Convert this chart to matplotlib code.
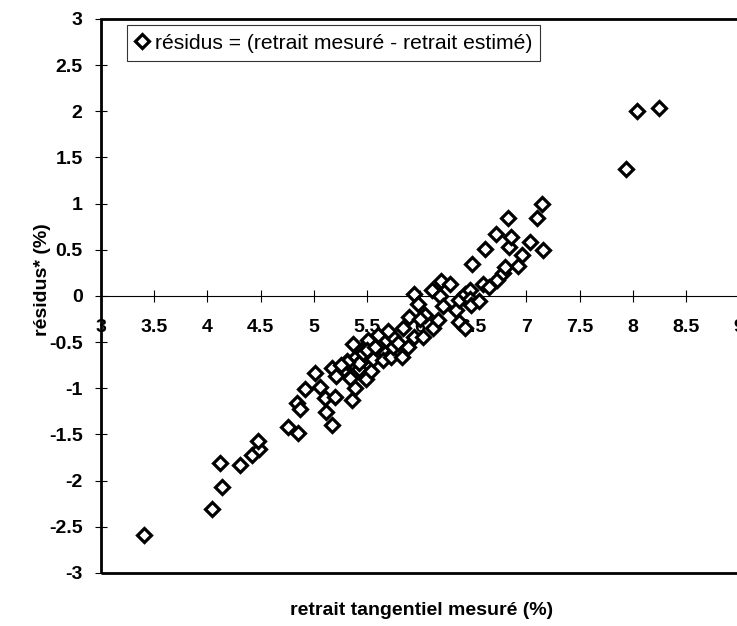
import matplotlib.pyplot as plt
from matplotlib.patches import Rectangle

retrait_mesure = [
    3.40, 4.04, 4.14, 4.12, 4.31, 4.42, 4.49, 4.48,
    4.76, 4.84, 4.87, 4.85, 4.92, 5.01, 5.06, 5.11, 5.12, 5.17, 5.20, 5.17,
    5.21, 5.28, 5.31, 5.34, 5.36, 5.39, 5.37, 5.40, 5.43, 5.45, 5.47, 5.49,
    5.51, 5.54, 5.54, 5.43, 5.56, 5.64, 5.61, 5.65, 5.68, 5.73, 5.75, 5.75,
    5.79, 5.83, 5.84, 5.89, 5.90, 5.94, 5.94, 5.98, 6.03, 6.05, 6.12, 6.11,
    6.17, 6.19, 6.20, 6.22, 6.28, 6.34, 6.37, 6.37, 6.42, 6.42, 6.47, 6.47,
    6.48, 6.49, 6.59, 6.61, 6.72, 6.71, 6.78, 6.80, 6.84, 6.85, 6.83, 6.92,
    6.96, 7.03, 7.10, 7.15, 7.16, 7.94, 8.04, 8.25,
    5.31, 5.46, 5.26, 5.50, 5.60, 5.70, 5.58, 6.55, 6.65, 6.00,
]
residus = [
    -2.59, -2.31, -2.07, -1.81, -1.83, -1.72, -1.66, -1.57,
    -1.42, -1.16, -1.22, -1.48, -1.01, -0.83, -0.99, -1.11, -1.26, -1.40, -1.09, -0.78,
    -0.87, -0.79, -0.70, -0.89, -1.13, -1.00, -0.52, -0.66, -0.79, -0.58, -0.67, -0.90,
    -0.48, -0.61, -0.81, -0.73, -0.68, -0.58, -0.53, -0.69, -0.48, -0.66, -0.55, -0.44,
    -0.51, -0.66, -0.35, -0.55, -0.23, -0.44, 0.02, -0.09, -0.44, -0.21, -0.35, 0.07,
    -0.26, 0.00, 0.16, -0.11, 0.13, -0.15, -0.04, -0.28, 0.02, -0.35, 0.06, -0.03,
    -0.10, 0.35, 0.13, 0.51, 0.17, 0.67, 0.25, 0.31, 0.53, 0.64, 0.84, 0.32,
    0.44, 0.58, 0.84, 1.00, 0.50, 1.37, 2.00, 2.04,
    -0.71, -0.62, -0.75, -0.59, -0.42, -0.38, -0.55, -0.05, 0.10, -0.25,
]

x_ticks = [3, 3.5, 4, 4.5, 5, 5.5, 6, 6.5, 7, 7.5, 8, 8.5, 9]
y_ticks = [-3, -2.5, -2, -1.5, -1, -0.5, 0, 0.5, 1, 1.5, 2, 2.5, 3]

plt.rcParams['font.family'] = ['Liberation Sans', 'DejaVu Sans']

fig = plt.figure(figsize=(7.37, 6.26), dpi=100)
ax = fig.add_axes([0.137, 0.0847, 0.866, 0.885])

ax.plot(retrait_mesure, residus, linestyle='none', marker='D', markersize=7.5,
        markerfacecolor='white', markeredgecolor='black', markeredgewidth=2.3,
        label='résidus = (retrait mesuré - retrait estimé)', zorder=3)

ax.set_xlim(3, 9)
ax.set_ylim(-3, 3)
ax.set_xticks(x_ticks)
ax.set_yticks(y_ticks)
ax.set_xticklabels(['%g' % t for t in x_ticks])
ax.set_yticklabels(['%g' % t for t in y_ticks])

# x axis drawn on the zero line, frame drawn separately
ax.spines['bottom'].set_position(('data', 0))
ax.spines['bottom'].set_linewidth(0.8)
for s in ['left', 'top', 'right']:
    ax.spines[s].set_visible(False)
ax.add_patch(Rectangle((0, 0), 1, 1, transform=ax.transAxes, fill=False,
                       lw=2.0, edgecolor='black', clip_on=False, zorder=4))

ax.tick_params(axis='x', direction='inout', length=8.5, width=0.8, pad=12,
               labelsize=14)
ax.tick_params(axis='y', direction='inout', length=8.5, width=0.8, pad=9,
               labelsize=14)
for lab in ax.get_xticklabels() + ax.get_yticklabels():
    lab.set_fontweight('bold')

ax.set_xlabel('retrait tangentiel mesuré (%)', fontsize=14, fontweight='bold')
ax.xaxis.set_label_coords(0.503, -0.052)
ax.set_ylabel('résidus* (%)', fontsize=14, fontweight='bold')
ax.yaxis.set_label_coords(-0.078, 0.53)

leg = ax.legend(loc='upper left', bbox_to_anchor=(0.041, 0.989), borderaxespad=0,
                fontsize=15.2, frameon=True, fancybox=False, handlelength=0.6,
                handletextpad=0.3, borderpad=0.4)
leg.get_frame().set_edgecolor('black')
leg.get_frame().set_linewidth(0.8)

fig.savefig('out.png', dpi=100)
